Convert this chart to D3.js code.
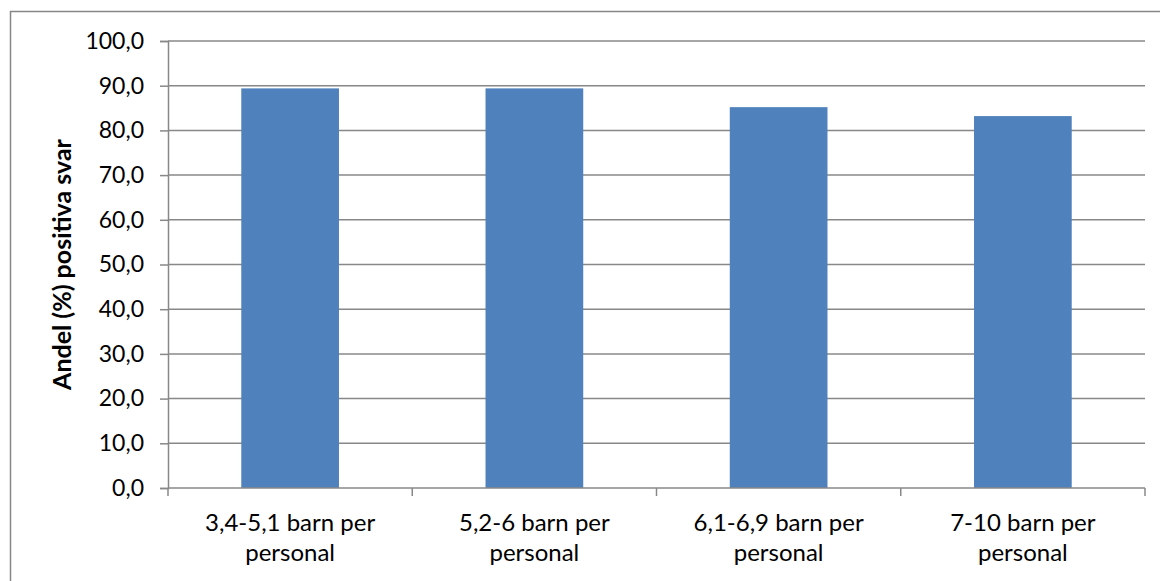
<!DOCTYPE html>
<html>
<head>
<meta charset="utf-8">
<script src="https://cdn.jsdelivr.net/npm/d3@7"></script>
<style>
  body { margin: 0; background: #fff; }
  text { font-family: Lato, "Open Sans", sans-serif; fill: #000; }
</style>
</head>
<body>
<svg id="chart"></svg>
<script>
// Data
const categories = ["3,4-5,1 barn per personal", "5,2-6 barn per personal", "6,1-6,9 barn per personal", "7-10 barn per personal"];
const labelLines = [["3,4-5,1 barn per", "personal"], ["5,2-6 barn per", "personal"], ["6,1-6,9 barn per", "personal"], ["7-10 barn per", "personal"]];
const values = [89.4, 89.4, 85.2, 83.2];
const yTicks = [0, 10, 20, 30, 40, 50, 60, 70, 80, 90, 100];

const width = 1160;
const height = 581;
const margin = { top: 41, right: 15, bottom: 93, left: 168 };

const svg = d3.select("#chart")
    .attr("width", width)
    .attr("height", height);

// outer chart border
svg.append("rect")
    .attr("x", 10.5).attr("y", 11.5)
    .attr("width", width + 20).attr("height", height + 20)
    .attr("fill", "none")
    .attr("stroke", "#868686")
    .attr("stroke-width", 1.5);

const x = d3.scaleBand()
    .domain(categories)
    .range([margin.left, width - margin.right])
    .paddingInner(0.6)
    .paddingOuter(0.3);

const y = d3.scaleLinear()
    .domain([0, 100])
    .range([height - margin.bottom, margin.top]);

// gridlines
svg.append("g")
    .selectAll("line")
    .data(yTicks.filter(d => d > 0))
    .enter().append("line")
    .attr("x1", margin.left)
    .attr("x2", width - margin.right)
    .attr("y1", d => y(d))
    .attr("y2", d => y(d))
    .attr("stroke", "#888")
    .attr("stroke-width", 1.5);

// bars
svg.append("g")
    .selectAll("rect")
    .data(values)
    .enter().append("rect")
    .attr("x", (d, i) => x(categories[i]))
    .attr("width", x.bandwidth())
    .attr("y", d => y(d))
    .attr("height", d => y(0) - y(d))
    .attr("fill", "#4F81BD");

// y axis
const yAxis = svg.append("g")
    .attr("transform", `translate(${margin.left},0)`)
    .call(d3.axisLeft(y)
        .tickValues(yTicks)
        .tickSize(8)
        .tickPadding(16)
        .tickFormat(d => d3.format(".1f")(d).replace(".", ",")));
yAxis.select(".domain").attr("stroke", "#888").attr("stroke-width", 1.5);
yAxis.selectAll(".tick line").attr("stroke", "#888").attr("stroke-width", 1.5);
yAxis.selectAll(".tick text").style("font-size", "23px").attr("fill", "#000");

// x axis with ticks at category boundaries
const xb = d3.scaleLinear().domain([0, categories.length]).range([margin.left, width - margin.right]);
svg.append("line")
    .attr("x1", margin.left).attr("x2", width - margin.right)
    .attr("y1", y(0)).attr("y2", y(0))
    .attr("stroke", "#888").attr("stroke-width", 1.5);
svg.append("g")
    .selectAll("line")
    .data(d3.range(categories.length + 1))
    .enter().append("line")
    .attr("x1", d => xb(d)).attr("x2", d => xb(d))
    .attr("y1", y(0)).attr("y2", y(0) + 8)
    .attr("stroke", "#888").attr("stroke-width", 1.5);

const xLabels = svg.append("g")
    .selectAll("text")
    .data(categories)
    .enter().append("text")
    .attr("text-anchor", "middle")
    .style("font-size", "24px")
    .attr("x", d => x(d) + x.bandwidth() / 2)
    .attr("y", y(0) + 43);
xLabels.selectAll("tspan")
    .data((d, i) => labelLines[i])
    .enter().append("tspan")
    .attr("x", function() { return this.parentNode.getAttribute("x"); })
    .attr("dy", (d, i) => i === 0 ? 0 : 30)
    .text(d => d);

// y axis title
svg.append("text")
    .attr("transform", `translate(71,${(y(0) + y(100)) / 2}) rotate(-90)`)
    .attr("text-anchor", "middle")
    .style("font-size", "25px")
    .style("font-weight", "bold")
    .text("Andel (%) positiva svar");
</script>
</body>
</html>
